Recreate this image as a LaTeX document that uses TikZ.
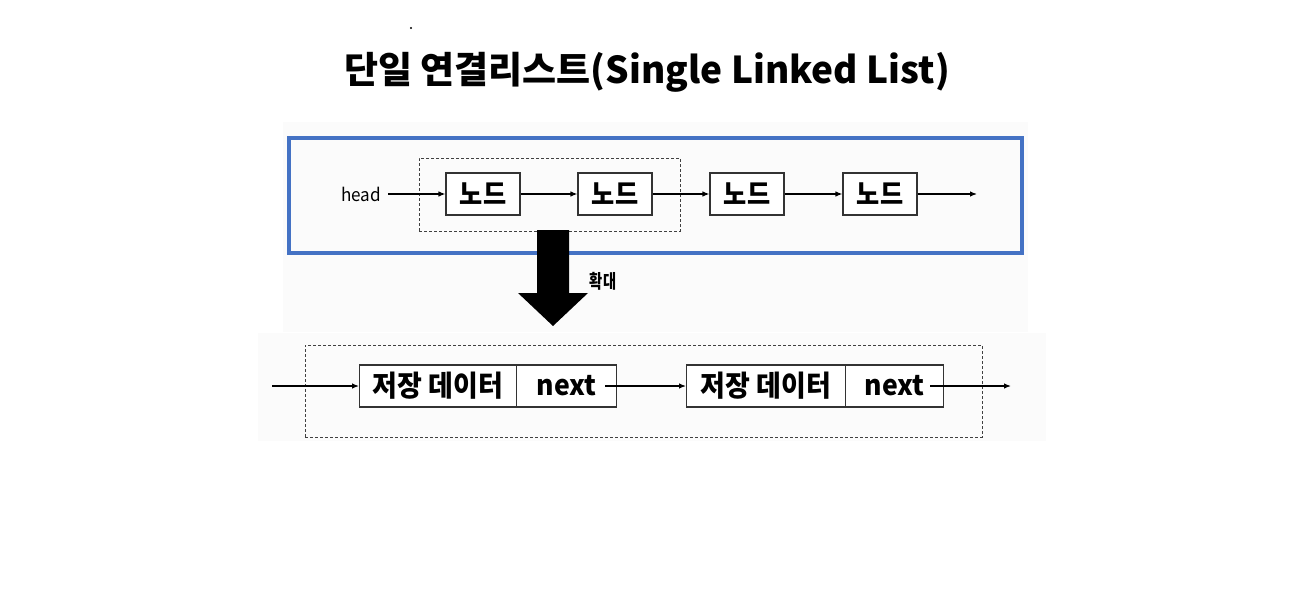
\documentclass[tikz,border=0pt]{standalone}
\usepackage{fontspec}
\newfontfamily\kr{Noto Sans CJK KR}
\usetikzlibrary{arrows.meta}
\definecolor{frameblue}{HTML}{4472C4}
\definecolor{imgbg}{HTML}{FBFBFB}
\begin{document}
\begin{tikzpicture}[x=1pt,y=-1pt,
  nodebox/.style={draw=black!80,line width=1.1pt,fill=white,minimum width=74pt,minimum height=42pt,inner sep=0pt,font=\kr\bfseries\fontsize{28}{28}\selectfont},
  cellbox/.style={draw=black!80,line width=1.1pt,fill=white,minimum height=42pt,inner sep=0pt,anchor=west},
  link/.style={-{Latex[length=7pt,width=5.5pt]},line width=1.2pt},
  dashbox/.style={draw=black!75,line width=1pt,dash pattern=on 3pt off 2pt}]
\useasboundingbox (0,0) rectangle (1298,607);
\fill[white] (0,0) rectangle (1298,607);
% embedded picture backgrounds
\fill[imgbg] (283,122) rectangle (1028,332);
\fill[imgbg] (258,333) rectangle (1046,441);
% title
\node[font=\kr\bfseries\fontsize{37}{37}\selectfont] (title) at (647,72) {단일 연결리스트(Single Linked List)};
\fill (411,28) circle (1.2pt);
% upper frame
\draw[frameblue,line width=4pt] (289,138) rectangle (1022,253);
\node[dashbox,minimum width=261pt,minimum height=73pt] (zoomsel) at (549.5,194.5) {};
\node[font=\kr\fontsize{18}{18}\selectfont,inner sep=0pt] (head) at (361,194) {\scalebox{0.95}[1]{head}};
\node[nodebox] (n1) at (483,194) {\scalebox{0.9}[1]{노드}};
\node[nodebox] (n2) at (615,194) {\scalebox{0.9}[1]{노드}};
\node[nodebox] (n3) at (747,194) {\scalebox{0.9}[1]{노드}};
\node[nodebox] (n4) at (880,194) {\scalebox{0.9}[1]{노드}};
\coordinate (endA) at (977,194);
\draw[link] ([xshift=7pt]head.east) -- (n1);
\draw[link] (n1) -- (n2);
\draw[link] (n2) -- (n3);
\draw[link] (n3) -- (n4);
\draw[link] (n4) -- (endA);
% big arrow
\fill[black] (537,230) -- (569,230) -- (569,293) -- (588,293) -- (553,326) -- (518,293) -- (537,293) -- cycle;
\node[font=\kr\bfseries\fontsize{19}{19}\selectfont,inner sep=0pt] (zoomlbl) at (603,281) {\scalebox{0.75}[1]{확대}};
% lower
\node[dashbox,minimum width=677pt,minimum height=92pt] (detail) at (643.5,391) {};
\node[cellbox,minimum width=157pt,font=\kr\bfseries\fontsize{29}{29}\selectfont] (d1) at (359,386) {\scalebox{0.93}[1]{저장 데이터}};
\node[cellbox,minimum width=100pt,font=\kr\bfseries\fontsize{28}{28}\selectfont] (x1) at (516,386) {\scalebox{0.95}[1]{next}};
\node[cellbox,minimum width=159pt,font=\kr\bfseries\fontsize{29}{29}\selectfont] (d2) at (686,386) {\scalebox{0.93}[1]{저장 데이터}};
\node[cellbox,minimum width=98pt,font=\kr\bfseries\fontsize{28}{28}\selectfont] (x2) at (845,386) {\scalebox{0.95}[1]{next}};
\coordinate (startB) at (272,386);
\coordinate (endB) at (1011,386);
\draw[link] (startB) -- (d1.west);
\draw[link] ([xshift=-12pt]x1.east) -- (d2.west);
\draw[link] ([xshift=-14pt]x2.east) -- (endB);
\end{tikzpicture}
\end{document}
